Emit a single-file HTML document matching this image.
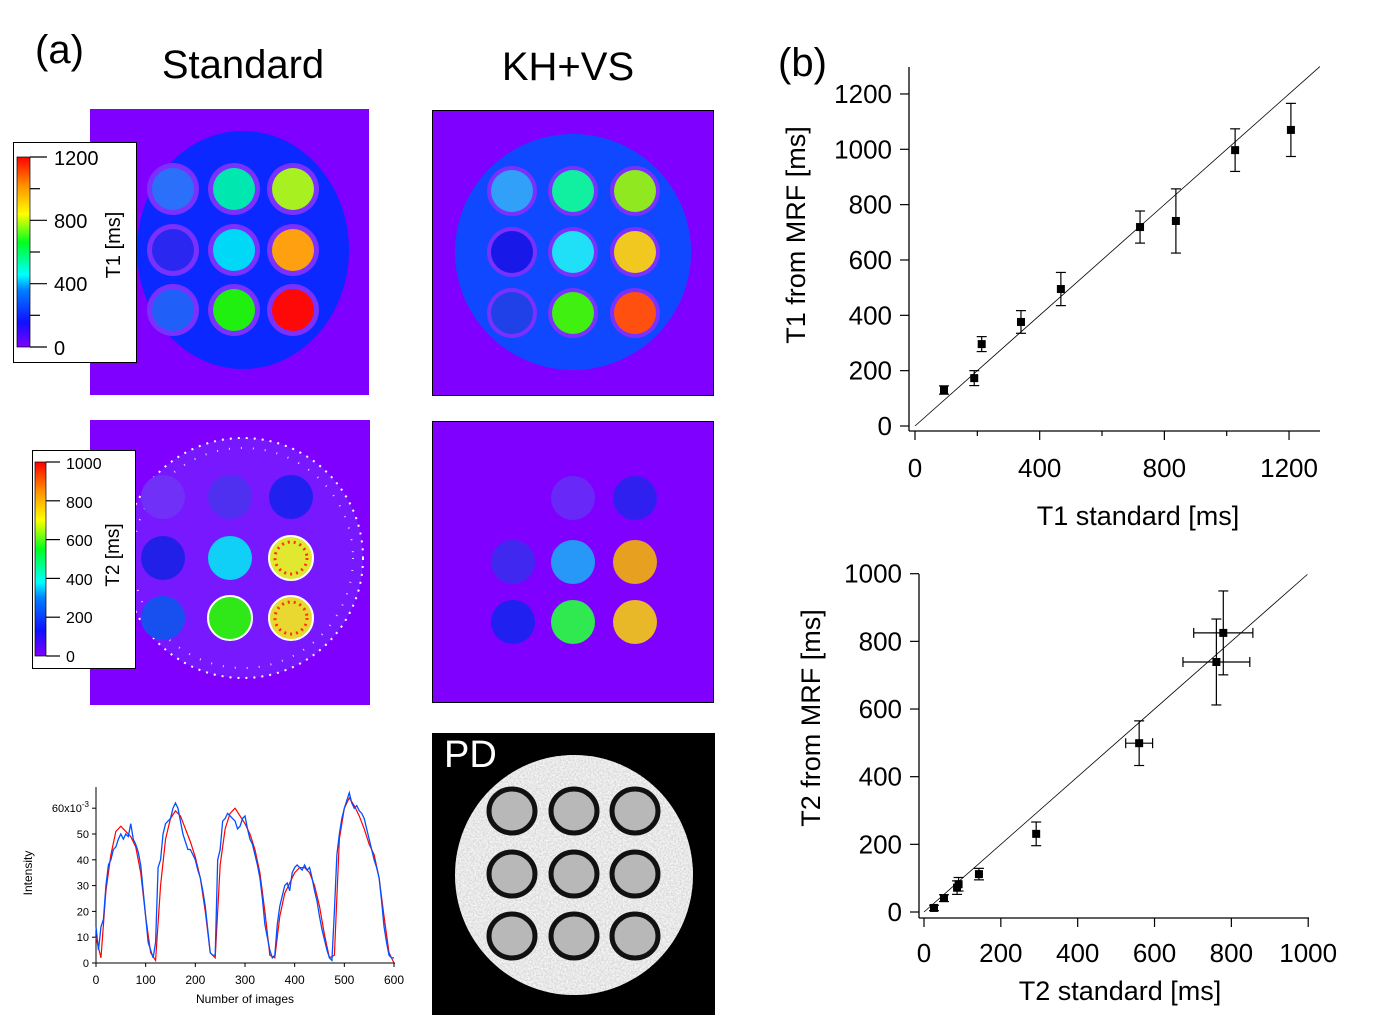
<!DOCTYPE html>
<html><head><meta charset="utf-8"><style>
html,body{margin:0;padding:0;background:#fff;}
svg{display:block;font-family:"Liberation Sans",sans-serif;}
</style></head><body>
<svg id="fig" width="1390" height="1028" viewBox="0 0 1390 1028" xmlns="http://www.w3.org/2000/svg">
<defs>
<linearGradient id="rainbow" x1="0" y1="1" x2="0" y2="0">
<stop offset="0" stop-color="#8000ff"/><stop offset="0.13" stop-color="#1010ff"/><stop offset="0.3" stop-color="#0080ff"/><stop offset="0.38" stop-color="#00ffff"/><stop offset="0.55" stop-color="#00ff20"/><stop offset="0.7" stop-color="#ffff00"/><stop offset="0.85" stop-color="#ff9000"/><stop offset="1" stop-color="#ff0000"/>
</linearGradient>
<filter id="noise" x="0" y="0" width="100%" height="100%"><feTurbulence type="fractalNoise" baseFrequency="0.6" numOctaves="1" seed="3"/><feColorMatrix type="matrix" values="0 0 0 0 1  0 0 0 0 1  0 0 0 0 1  0 0 0 -2.2 1.6"/><feComposite in2="SourceGraphic" operator="in"/></filter>
</defs>

<text x="35" y="63" font-size="40">(a)</text>
<text x="243" y="78" font-size="40" text-anchor="middle">Standard</text>
<text x="568" y="80" font-size="40" text-anchor="middle">KH+VS</text>
<text x="778" y="76" font-size="40">(b)</text>

<!-- T1 standard map -->
<g>
<rect x="90" y="109" width="279" height="286" fill="#8000ff"/>
<ellipse cx="243" cy="250" rx="106" ry="119" fill="#0a28ff"/>
<g fill="#7a30ff">
<circle cx="173" cy="189" r="26"/><circle cx="234" cy="189" r="26"/><circle cx="293" cy="189" r="26"/>
<circle cx="173" cy="250" r="26"/><circle cx="234" cy="250" r="26"/><circle cx="293" cy="250" r="26"/>
<circle cx="173" cy="310" r="26"/><circle cx="234" cy="310" r="26"/><circle cx="293" cy="310" r="26"/></g>
<circle cx="173" cy="189" r="21" fill="#2a70f8"/><circle cx="234" cy="189" r="21" fill="#00e8b0"/><circle cx="293" cy="189" r="21" fill="#a8f020"/>
<circle cx="173" cy="250" r="21" fill="#2a28f0"/><circle cx="234" cy="250" r="21" fill="#00d8f8"/><circle cx="293" cy="250" r="21" fill="#ffa010"/>
<circle cx="173" cy="310" r="21" fill="#2060f8"/><circle cx="234" cy="310" r="21" fill="#20f010"/><circle cx="293" cy="310" r="21" fill="#ff0808"/>
</g>
<g>
<rect x="13.5" y="142.5" width="123" height="220" fill="#fff" stroke="#000"/>
<rect x="17" y="157" width="13" height="190" fill="url(#rainbow)" stroke="#000" stroke-width="0.7"/>
<g stroke="#000" stroke-width="1.2"><line x1="30" y1="157" x2="47" y2="157"/><line x1="30" y1="188.7" x2="40" y2="188.7"/><line x1="30" y1="220.3" x2="47" y2="220.3"/><line x1="30" y1="252" x2="40" y2="252"/><line x1="30" y1="283.7" x2="47" y2="283.7"/><line x1="30" y1="315.3" x2="40" y2="315.3"/><line x1="30" y1="347" x2="47" y2="347"/></g>
<g font-size="20"><text x="54" y="165">1200</text><text x="54" y="228">800</text><text x="54" y="291">400</text><text x="54" y="355">0</text></g>
<text transform="translate(120,245) rotate(-90)" font-size="20" text-anchor="middle">T1 [ms]</text>
</g>

<!-- T2 standard map -->
<g>
<rect x="90" y="420" width="280" height="285" fill="#8000ff"/>
<circle cx="243" cy="558" r="120" fill="#7818ff" stroke="#fff" stroke-width="2" stroke-dasharray="2 6"/>
<circle cx="243" cy="558" r="110" fill="none" stroke="#fff" stroke-width="2" stroke-dasharray="1 11" opacity="0.8"/>
<circle cx="163" cy="497" r="22" fill="#7030f8"/><circle cx="230" cy="497" r="22" fill="#5030f0"/><circle cx="291" cy="497" r="22" fill="#2020f0"/>
<circle cx="163" cy="558" r="22" fill="#2020e8"/><circle cx="230" cy="558" r="22" fill="#10d0f8"/><circle cx="291" cy="558" r="22" fill="#e0e830" stroke="#fff" stroke-width="2"/>
<circle cx="163" cy="618" r="22" fill="#1850f0"/><circle cx="230" cy="618" r="22" fill="#30e818" stroke="#fff" stroke-width="2"/><circle cx="291" cy="618" r="22" fill="#e8d830" stroke="#fff" stroke-width="2"/>
<circle cx="291" cy="558" r="16" fill="none" stroke="#ff3010" stroke-width="3" stroke-dasharray="2 4"/>
<circle cx="291" cy="618" r="16" fill="none" stroke="#ff3010" stroke-width="3" stroke-dasharray="2 4"/>
</g>
<g>
<rect x="32.5" y="450.5" width="103" height="218" fill="#fff" stroke="#000"/>
<rect x="35" y="462" width="11" height="194" fill="url(#rainbow)" stroke="#000" stroke-width="0.7"/>
<g stroke="#000" stroke-width="1.2"><line x1="46" y1="462" x2="60" y2="462"/><line x1="46" y1="500.8" x2="60" y2="500.8"/><line x1="46" y1="539.6" x2="60" y2="539.6"/><line x1="46" y1="578.4" x2="60" y2="578.4"/><line x1="46" y1="617.2" x2="60" y2="617.2"/><line x1="46" y1="656" x2="60" y2="656"/></g>
<g font-size="16"><text x="66" y="469">1000</text><text x="66" y="508">800</text><text x="66" y="546">600</text><text x="66" y="585">400</text><text x="66" y="623">200</text><text x="66" y="662">0</text></g>
<text transform="translate(119,555) rotate(-90)" font-size="19" text-anchor="middle">T2 [ms]</text>
</g>

<!-- KH+VS T1 -->
<g>
<rect x="432.5" y="110.5" width="281" height="285" fill="#8000ff" stroke="#000"/>
<circle cx="573" cy="252" r="118" fill="#1048ff"/>
<g fill="#7a30ff">
<circle cx="512" cy="191" r="25"/><circle cx="573" cy="191" r="25"/><circle cx="635" cy="191" r="25"/>
<circle cx="512" cy="252" r="25"/><circle cx="573" cy="252" r="25"/><circle cx="635" cy="252" r="25"/>
<circle cx="512" cy="313" r="25"/><circle cx="573" cy="313" r="25"/><circle cx="635" cy="313" r="25"/></g>
<circle cx="512" cy="191" r="21" fill="#30a0f8"/><circle cx="573" cy="191" r="21" fill="#10f0a0"/><circle cx="635" cy="191" r="21" fill="#90e820"/>
<circle cx="512" cy="252" r="21" fill="#1818e8"/><circle cx="573" cy="252" r="21" fill="#20e0f8"/><circle cx="635" cy="252" r="21" fill="#f0c820"/>
<circle cx="512" cy="313" r="21" fill="#2040e8"/><circle cx="573" cy="313" r="21" fill="#40f010"/><circle cx="635" cy="313" r="21" fill="#ff5010"/>
</g>
<!-- KH+VS T2 -->
<g>
<rect x="432.5" y="421.5" width="281" height="281" fill="#8000ff" stroke="#000"/>
<circle cx="573" cy="498" r="22" fill="#6828f8"/><circle cx="635" cy="498" r="22" fill="#3020f0"/>
<circle cx="513" cy="562" r="22" fill="#4028f0"/><circle cx="573" cy="562" r="22" fill="#2898f8"/><circle cx="635" cy="562" r="22" fill="#e8a020"/>
<circle cx="513" cy="622" r="22" fill="#2020f0"/><circle cx="573" cy="622" r="22" fill="#30e850"/><circle cx="635" cy="622" r="22" fill="#e8b828"/>
</g>
<!-- PD -->
<g>
<rect x="432" y="733" width="283" height="282" fill="#000"/>
<ellipse cx="574" cy="875" rx="119" ry="120" fill="#d8d8d8"/>
<ellipse cx="574" cy="875" rx="119" ry="120" fill="#fff" filter="url(#noise)" opacity="0.8"/>
<g fill="#b8b8b8" stroke="#111" stroke-width="5">
<ellipse cx="512" cy="811" rx="23" ry="22"/><ellipse cx="574" cy="811" rx="23" ry="22"/><ellipse cx="635" cy="811" rx="23" ry="22"/>
<ellipse cx="512" cy="874" rx="23" ry="22"/><ellipse cx="574" cy="874" rx="23" ry="22"/><ellipse cx="635" cy="874" rx="23" ry="22"/>
<ellipse cx="512" cy="936" rx="23" ry="22"/><ellipse cx="574" cy="936" rx="23" ry="22"/><ellipse cx="635" cy="936" rx="23" ry="22"/></g>
<text x="444" y="767" font-size="38" fill="#fff">PD</text>
</g>

<g id="t1plot"></g>
<g id="t2plot"></g>
<g id="intplot"></g>
</svg>
<script>
// ---- T1 scatter data ----
const t1Std = [93,190,214,340,468,722,837,1027,1206];
const t1Mrf = [130,173,296,376,495,719,741,997,1070];
const t1Err = [15,27,27,41,60,58,116,77,96];
const t1Ticks = [0,400,800,1200];
const t1YTicks = [0,200,400,600,800,1000,1200];
// ---- T2 scatter data ----
const t2Std = [26,52,86,90,143,292,560,761,779];
const t2Mrf = [12,41,72,82,112,231,499,739,825];
const t2YErr = [8,10,20,20,17,35,66,127,124];
const t2XErr = [0,0,0,0,0,0,35,87,77];
const t2XTicks = [0,200,400,600,800,1000];
const t2YTicks = [0,200,400,600,800,1000];
// ---- Intensity curves ----
const fitVals = [10,2,28,42,51,53,51,49,45,35,18,4,1,30,48,56,59,57,52,47,41,33,20,4,2,38,52,58,60,57,54,50,44,35,20,3,2,18,27,31,35,37,37,35,30,22,11,2,3,48,60,64,61,57,52,46,42,33,18,4,0];
const measVals = [14,5,14,17,30,38,40,44,45,48,50,48,50,49,54,48,46,43,38,28,18,8,5,2,8,
37,40,50,54,55,56,60,62,60,55,50,47,44,44,42,40,36,33,28,22,13,4,3,3,
40,44,55,56,58,57,56,55,52,53,56,57,52,48,46,42,38,33,25,15,10,5,2,3,
15,22,26,30,31,28,35,37,38,37,36,38,36,37,33,28,24,18,13,9,5,2,1,
20,42,50,56,60,63,66,62,60,61,59,58,56,52,48,44,40,37,33,24,14,8,3,2,2];
const intXTicks = [0,100,200,300,400,500,600];
const intYTicks = [0,10,20,30,40,50];

const NS='http://www.w3.org/2000/svg';
function mk(parent,tag,attrs){const e=document.createElementNS(NS,tag);for(const k in attrs)e.setAttribute(k,attrs[k]);parent.appendChild(e);return e;}

function scatter(g,o){
  const sx=v=>o.x0+(v-o.xmin)*o.kx, sy=v=>o.y0-(v-o.ymin)*o.ky;
  mk(g,'line',{x1:o.ax,y1:o.top,x2:o.ax,y2:o.ay,stroke:'#000','stroke-width':1.3});
  mk(g,'line',{x1:o.ax,y1:o.ay,x2:o.right,y2:o.ay,stroke:'#000','stroke-width':1.3});
  o.yt.forEach(v=>{mk(g,'line',{x1:o.ax-9,y1:sy(v),x2:o.ax,y2:sy(v),stroke:'#000','stroke-width':1.2});
    const t=mk(g,'text',{x:o.ax-17,y:sy(v)+9,'font-size':26,'text-anchor':'end'});t.textContent=v;
    
    });
  o.xt.forEach(v=>{mk(g,'line',{x1:sx(v),y1:o.ay,x2:sx(v),y2:o.ay+9,stroke:'#000','stroke-width':1.2});
    const t=mk(g,'text',{x:sx(v),y:o.xly,'font-size':26,'text-anchor':'middle'});t.textContent=v;
    
    });
  o.xm.forEach(v=>{mk(g,'line',{x1:sx(v),y1:o.ay,x2:sx(v),y2:o.ay+5,stroke:'#000','stroke-width':1.2});});
  const dmax=o.dmax;
  const id=mk(g,'line',{x1:sx(o.dmin),y1:sy(o.dmin),x2:sx(dmax),y2:sy(dmax),stroke:'#000','stroke-width':0.8});
  
  
  o.xs.forEach((xv,i)=>{const cx=sx(xv),cy=sy(o.ys[i]);
    const ey=o.ey[i], ex=o.ex?o.ex[i]:0;
    if(ey){mk(g,'line',{x1:cx,y1:sy(o.ys[i]+ey),x2:cx,y2:sy(o.ys[i]-ey),stroke:'#000','stroke-width':1.2});
      mk(g,'line',{x1:cx-5,y1:sy(o.ys[i]+ey),x2:cx+5,y2:sy(o.ys[i]+ey),stroke:'#000','stroke-width':1.2});
      mk(g,'line',{x1:cx-5,y1:sy(o.ys[i]-ey),x2:cx+5,y2:sy(o.ys[i]-ey),stroke:'#000','stroke-width':1.2});}
    if(ex){mk(g,'line',{x1:sx(xv-ex),y1:cy,x2:sx(xv+ex),y2:cy,stroke:'#000','stroke-width':1.2});
      mk(g,'line',{x1:sx(xv-ex),y1:cy-5,x2:sx(xv-ex),y2:cy+5,stroke:'#000','stroke-width':1.2});
      mk(g,'line',{x1:sx(xv+ex),y1:cy-5,x2:sx(xv+ex),y2:cy+5,stroke:'#000','stroke-width':1.2});}
    const p=mk(g,'rect',{x:cx-4,y:cy-4,width:8,height:8,fill:'#000'});
    
    });
  const xl=mk(g,'text',{x:o.xlx,y:o.xlty,'font-size':27,'text-anchor':'middle'});xl.textContent=o.xlab;
  
  
  const yl=mk(g,'text',{transform:`translate(${o.ylx},${o.yly}) rotate(-90)`,'font-size':27,'text-anchor':'middle'});yl.textContent=o.ylab;
  
  
}
scatter(document.getElementById('t1plot'),{x0:915,xmin:0,kx:0.3117,y0:426,ymin:0,ky:0.2767,ax:909,ay:431,top:67,right:1320,
  yt:t1YTicks,xt:t1Ticks,xm:[200,600,1000],xly:477,dmin:0,dmax:1299,xs:t1Std,ys:t1Mrf,ey:t1Err,
  xlab:'T1 standard [ms]',xlx:1138,xlty:525,ylab:'T1 from MRF [ms]',ylx:805,yly:235});
scatter(document.getElementById('t2plot'),{x0:924,xmin:0,kx:0.3842,y0:912,ymin:0,ky:0.3383,ax:919,ay:918,top:574,right:1309,
  yt:t2YTicks,xt:t2XTicks,xm:[],xly:962,dmin:0,dmax:998,xs:t2Std,ys:t2Mrf,ey:t2YErr,ex:t2XErr,
  xlab:'T2 standard [ms]',xlx:1120,xlty:1000,ylab:'T2 from MRF [ms]',ylx:820,yly:718});

(function(){
  const g=document.getElementById('intplot');
  const sx=v=>96+v*(298/600), sy=v=>963-v*2.58;
  mk(g,'line',{x1:96,y1:787,x2:96,y2:963,stroke:'#000','stroke-width':1});
  mk(g,'line',{x1:96,y1:963,x2:395,y2:963,stroke:'#000','stroke-width':1});
  intYTicks.forEach(v=>{mk(g,'line',{x1:92,y1:sy(v),x2:96,y2:sy(v),stroke:'#000'});
    const t=mk(g,'text',{x:89,y:sy(v)+4,'font-size':11,'text-anchor':'end'});t.textContent=v;
    
    });
  mk(g,'line',{x1:92,y1:sy(60),x2:96,y2:sy(60),stroke:'#000'});
  const t6=mk(g,'text',{x:89,y:sy(60)+4,'font-size':11,'text-anchor':'end'});
  t6.innerHTML='60x10<tspan dy="-5" font-size="8">-3</tspan>';
  
  
  intXTicks.forEach(v=>{mk(g,'line',{x1:sx(v),y1:963,x2:sx(v),y2:967,stroke:'#000'});
    const t=mk(g,'text',{x:sx(v),y:984,'font-size':12,'text-anchor':'middle'});t.textContent=v;
    
    });
  const fp=mk(g,'polyline',{points:fitVals.map((v,i)=>sx(i*10)+','+sy(v)).join(' '),fill:'none',stroke:'#ff0000','stroke-width':1.2});
  
  
  const mp=mk(g,'polyline',{points:measVals.map((v,i)=>sx(i*5)+','+sy(v)).join(' '),fill:'none',stroke:'#0050ff','stroke-width':1.3});
  
  
  const xl=mk(g,'text',{x:245,y:1003,'font-size':12,'text-anchor':'middle'});xl.textContent='Number of images';
  
  
  const yl=mk(g,'text',{transform:'translate(32,873) rotate(-90)','font-size':12,'text-anchor':'middle'});yl.textContent='Intensity';
  
  
})();
</script>
</body></html>
